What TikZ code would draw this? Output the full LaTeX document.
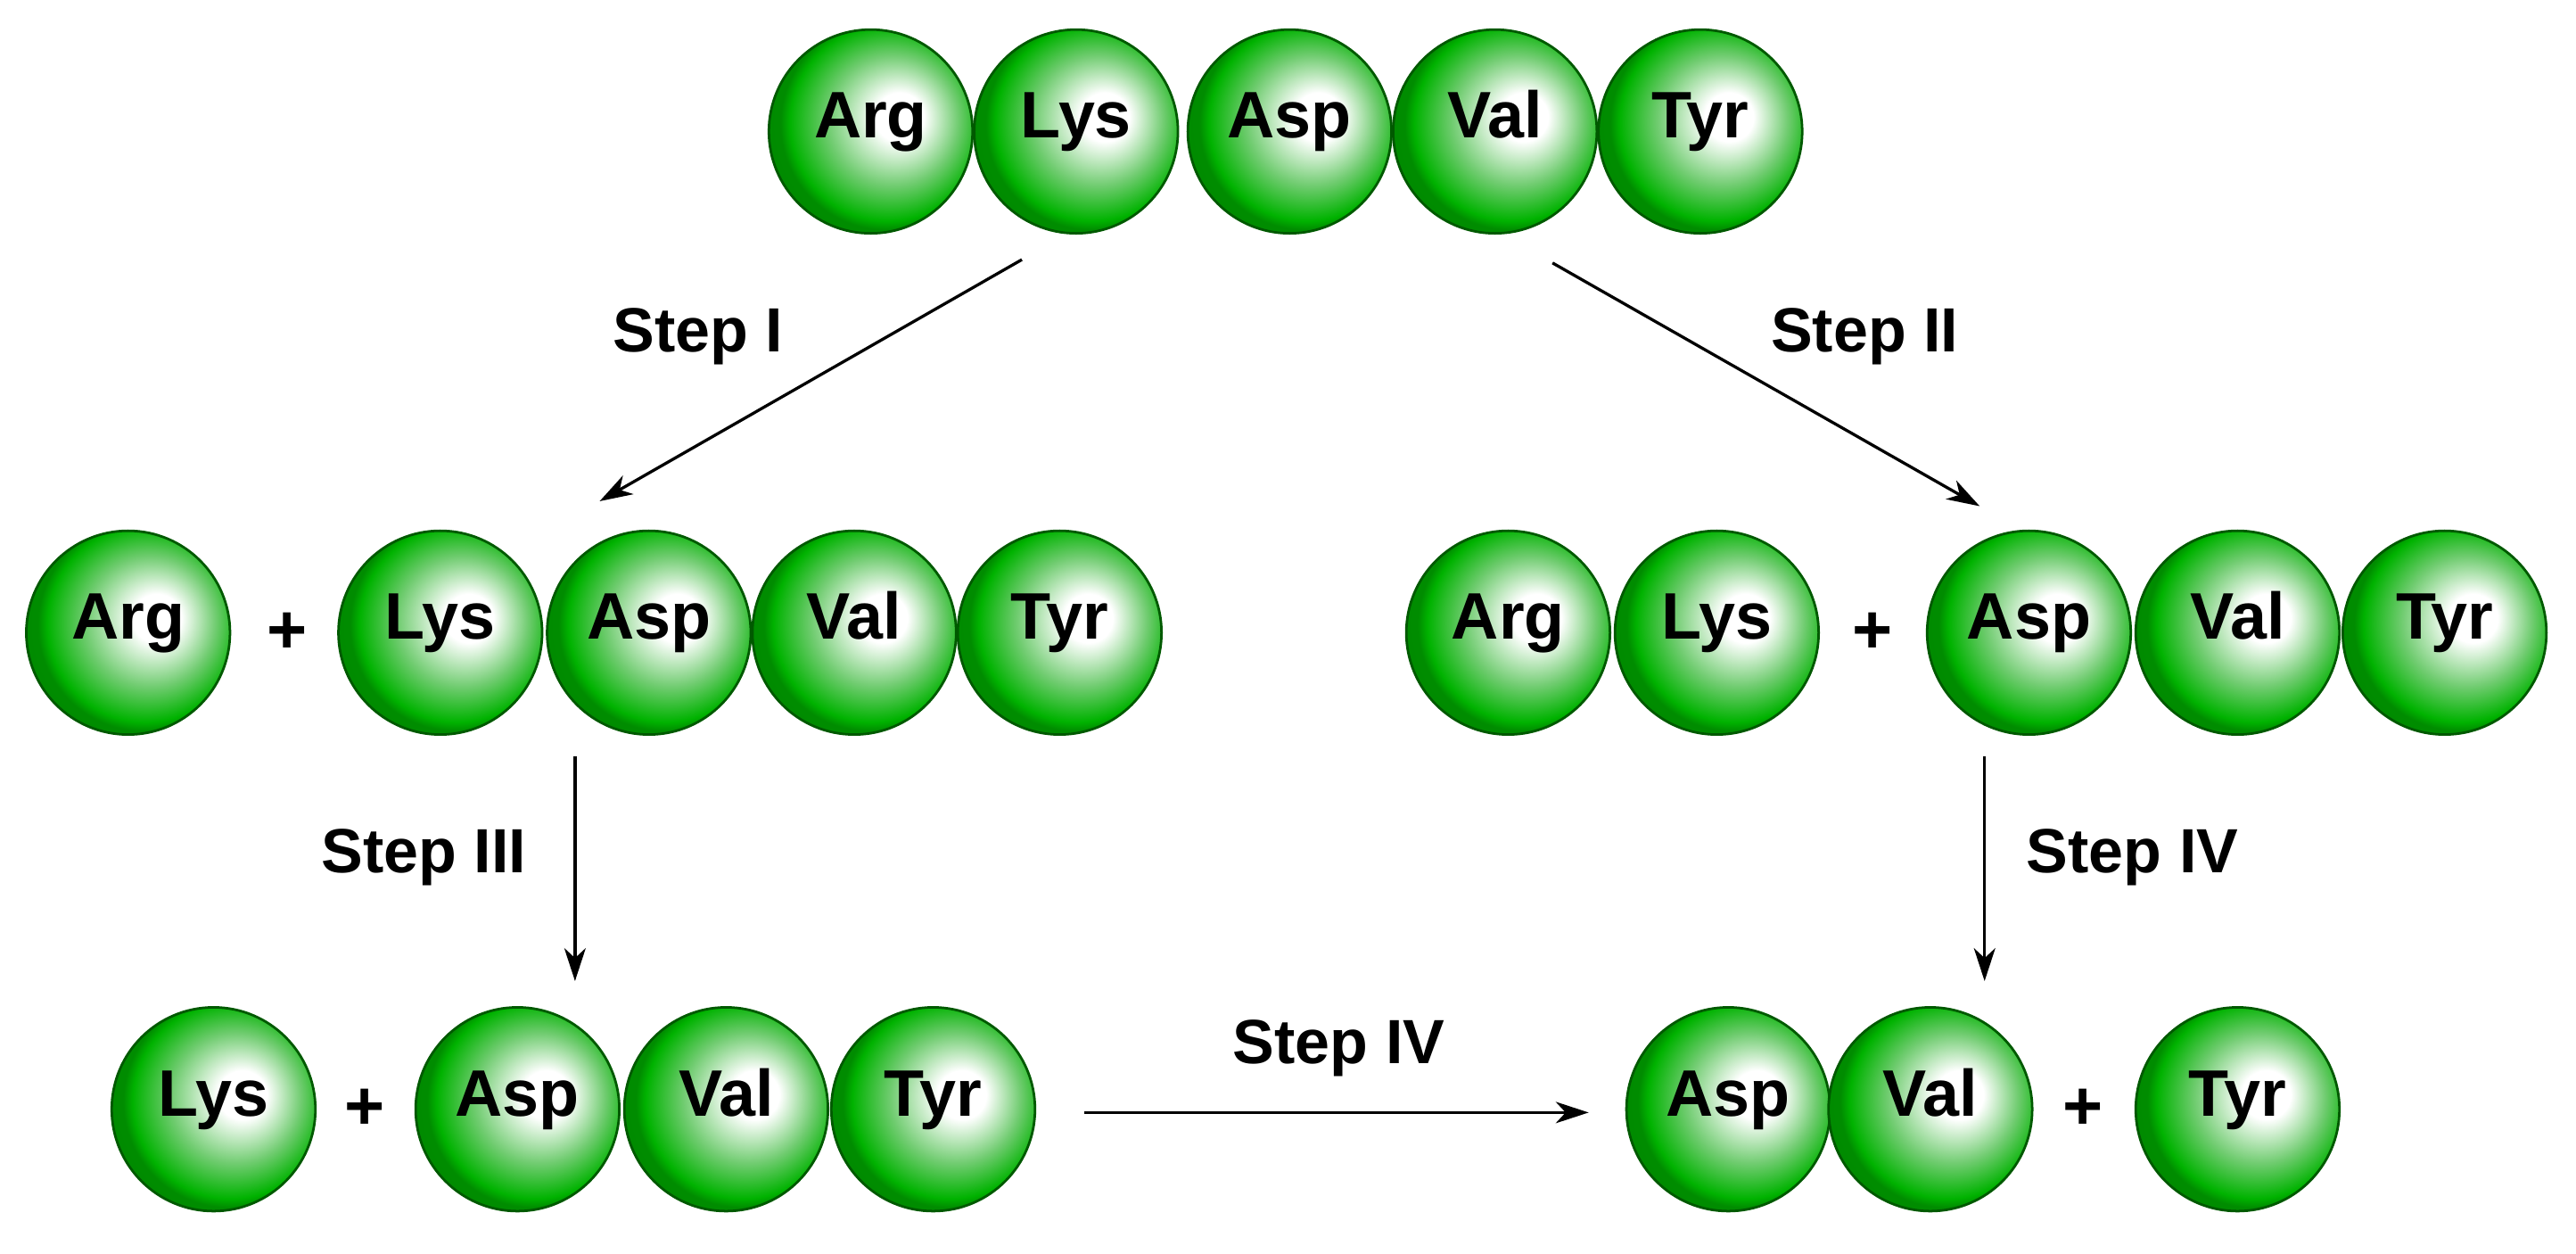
\documentclass[tikz,border=0pt]{standalone}
\usepackage{fontspec}
\setmainfont{Liberation Sans}
\usetikzlibrary{arrows.meta}
\pgfdeclareradialshading{greenball}{\pgfpoint{8bp}{4bp}}{color(0bp)=(white); color(6bp)=(white); color(16bp)=(green!45!white!80!black); color(24bp)=(green!70!black); color(26bp)=(green!55!black); color(50bp)=(green!50!black)}
\tikzset{
 aa/.style={circle,minimum size=124pt,inner sep=0pt,text height=0.82em,text depth=0em,shading=greenball,draw=green!35!black,line width=1.5pt,font=\fontsize{40}{44}\selectfont\bfseries},
 pl/.style={font=\fontsize{42}{44}\selectfont\bfseries},
 lbl/.style={font=\fontsize{38}{44}\selectfont\bfseries},
 arr/.style={line width=1.8pt,-{Stealth[length=20pt,width=13pt,inset=6pt]}}
}
\begin{document}
\begin{tikzpicture}[x=1pt,y=-1pt]
\useasboundingbox (0,0) rectangle (1568,763);
\foreach \n/\t/\x in {a/Arg/530,b/Lys/655,c/Asp/785,d/Val/910,e/Tyr/1035}
  \node[aa] (t\n) at (\x,80) {\t};
\foreach \n/\t/\x in {a/Arg/78,b/Lys/268,c/Asp/395,d/Val/520,e/Tyr/645}
  \node[aa] (l\n) at (\x,385) {\t};
\node[pl] (lp) at (175,385) {+};
\foreach \n/\t/\x in {a/Arg/918,b/Lys/1045,c/Asp/1235,d/Val/1362,e/Tyr/1488}
  \node[aa] (r\n) at (\x,385) {\t};
\node[pl] (rp) at (1140,385) {+};
\foreach \n/\t/\x in {b/Lys/130,c/Asp/315,d/Val/442,e/Tyr/568}
  \node[aa] (m\n) at (\x,675) {\t};
\node[pl] (mp) at (222,675) {+};
\foreach \n/\t/\x in {c/Asp/1052,d/Val/1175,e/Tyr/1362}
  \node[aa] (n\n) at (\x,675) {\t};
\node[pl] (np) at (1268,675) {+};
\coordinate (a1s) at (622,158); \coordinate (a1e) at (365,305);
\coordinate (a2s) at (945,160); \coordinate (a2e) at (1205,308);
\coordinate (a3s) at (350,460); \coordinate (a3e) at (350,597);
\coordinate (a4s) at (1208,460); \coordinate (a4e) at (1208,597);
\coordinate (a5s) at (660,677); \coordinate (a5e) at (967,677);
\draw[arr] (a1s) -- (a1e);
\draw[arr] (a2s) -- (a2e);
\draw[arr] (a3s) -- (a3e);
\draw[arr] (a4s) -- (a4e);
\draw[arr] (a5s) -- (a5e);
\node[lbl] (s1) at (425,205) {Step I};
\node[lbl] (s2) at (1135,205) {Step II};
\node[lbl] (s3) at (258,522) {Step III};
\node[lbl] (s4) at (1298,522) {Step IV};
\node[lbl] (s5) at (815,638) {Step IV};
\end{tikzpicture}
\end{document}
